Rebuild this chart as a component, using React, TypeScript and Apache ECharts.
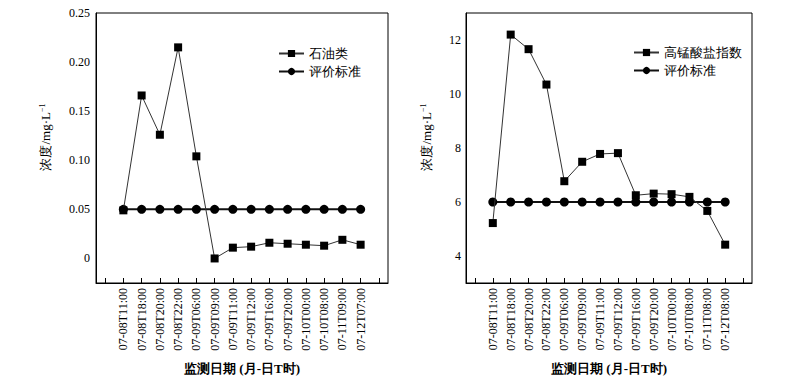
import React, { useEffect, useRef } from "react";
import * as echarts from "echarts";

const datesLeft = [
  "07-08T11:00", "07-08T18:00", "07-08T20:00", "07-08T22:00", "07-09T06:00",
  "07-09T09:00", "07-09T11:00", "07-09T12:00", "07-09T16:00", "07-09T20:00",
  "07-10T00:00", "07-10T08:00", "07-11T09:00", "07-12T07:00",
];
const datesRight = [
  "07-08T11:00", "07-08T18:00", "07-08T20:00", "07-08T22:00", "07-09T06:00",
  "07-09T09:00", "07-09T11:00", "07-09T12:00", "07-09T16:00", "07-09T20:00",
  "07-10T00:00", "07-10T08:00", "07-11T08:00", "07-12T08:00",
];
const petroleum = [0.049, 0.166, 0.126, 0.215, 0.104, 0.0, 0.011, 0.012, 0.016, 0.015, 0.014, 0.013, 0.019, 0.014];
const petroleumStd = [0.05, 0.05, 0.05, 0.05, 0.05, 0.05, 0.05, 0.05, 0.05, 0.05, 0.05, 0.05, 0.05, 0.05];
const permanganate = [5.22, 12.2, 11.66, 10.35, 6.77, 7.49, 7.78, 7.81, 6.25, 6.31, 6.29, 6.19, 5.67, 4.42];
const permanganateStd = [6, 6, 6, 6, 6, 6, 6, 6, 6, 6, 6, 6, 6, 6];

const SERIF = "Liberation Serif";

const pad = (arr: any[], v: any) => [v, ...arr, v];

export default function App() {
  const ref = useRef<HTMLDivElement>(null);
  useEffect(() => {
    if (!ref.current) return;
    const chart = echarts.init(ref.current, null, { renderer: "svg" });
    const xAxisCommon = (cats: string[], gridIndex: number) => ({
      type: "category",
      gridIndex,
      data: pad(cats, ""),
      boundaryGap: true,
      axisLine: { show: true, onZero: false, lineStyle: { color: "#000", width: 1 } },
      axisTick: { show: true, inside: true, alignWithLabel: true, interval: 0, length: 5, lineStyle: { color: "#000" } },
      axisLabel: { rotate: 90, interval: 0, margin: 5, color: "#000", fontSize: 12, fontFamily: SERIF },
      name: "监测日期 (月-日T时)",
      nameLocation: "middle",
      nameGap: 79,
      nameTextStyle: { color: "#000", fontSize: 13, fontWeight: "bold", fontFamily: SERIF },
      splitLine: { show: false },
    });
    const yName = "浓度/mg·L{sup|−1}";
    const yNameStyle = {
      color: "#000",
      fontSize: 13,
      fontFamily: SERIF,
      padding: [0, 0, 0, 22],
      rich: { sup: { fontSize: 8, verticalAlign: "top", color: "#000", fontFamily: SERIF, padding: [0, 0, 6, 0] } },
    };
    const option: any = {
      animation: false,
      backgroundColor: "#fff",
      textStyle: { fontFamily: SERIF },
      grid: [
        { left: 96, right: 412, top: 13, bottom: 97, show: true, borderColor: "#000", borderWidth: 1, backgroundColor: "transparent" },
        { left: 466, right: 48, top: 13, bottom: 97, show: true, borderColor: "#000", borderWidth: 1, backgroundColor: "transparent" },
      ],
      xAxis: [xAxisCommon(datesLeft, 0), xAxisCommon(datesRight, 1)],
      yAxis: [
        {
          type: "value",
          gridIndex: 0,
          min: -0.025,
          max: 0.25,
          interval: 0.025,
          axisLine: { show: true, lineStyle: { color: "#000" } },
          axisTick: { show: false },
          splitLine: { show: false },
          axisLabel: {
            margin: 6,
            color: "#000",
            fontSize: 12,
            fontFamily: SERIF,
            formatter: (v: number) => {
              const k = Math.round(v * 1000);
              if (k < 0 || k % 50 !== 0) return "";
              return k === 0 ? "0" : (k / 1000).toFixed(2);
            },
          },
          name: yName,
          nameLocation: "middle",
          nameGap: 44,
          nameTextStyle: yNameStyle,
        },
        {
          type: "value",
          gridIndex: 1,
          min: 3,
          max: 13,
          interval: 1,
          axisLine: { show: true, lineStyle: { color: "#000" } },
          axisTick: { show: false },
          splitLine: { show: false },
          axisLabel: {
            margin: 5,
            color: "#000",
            fontSize: 12,
            fontFamily: SERIF,
            formatter: (v: number) => {
              const k = Math.round(v);
              return k % 2 === 0 ? String(k) : "";
            },
          },
          name: yName,
          nameLocation: "middle",
          nameGap: 33,
          nameTextStyle: yNameStyle,
        },
      ],
      legend: [
        {
          data: ["石油类", "评价标准"],
          orient: "vertical",
          left: 273,
          top: 42,
          itemWidth: 25,
          itemHeight: 9,
          itemGap: 5,
          textStyle: { color: "#000", fontSize: 13, fontFamily: SERIF },
        },
        {
          data: ["高锰酸盐指数", "评价标准"],
          orient: "vertical",
          left: 628,
          top: 41,
          itemWidth: 25,
          itemHeight: 9,
          itemGap: 5,
          textStyle: { color: "#000", fontSize: 13, fontFamily: SERIF },
        },
      ],
      series: [
        {
          name: "评价标准",
          type: "line",
          xAxisIndex: 0,
          yAxisIndex: 0,
          data: pad(petroleumStd, null),
          symbol: "circle",
          symbolSize: 9,
          itemStyle: { color: "#000" },
          lineStyle: { color: "#111", width: 2 },
          z: 2,
        },
        {
          name: "石油类",
          type: "line",
          xAxisIndex: 0,
          yAxisIndex: 0,
          data: pad(petroleum, null),
          symbol: "rect",
          symbolSize: 8,
          itemStyle: { color: "#000" },
          lineStyle: { color: "#333", width: 1 },
          z: 3,
        },
        {
          name: "评价标准",
          type: "line",
          xAxisIndex: 1,
          yAxisIndex: 1,
          data: pad(permanganateStd, null),
          symbol: "circle",
          symbolSize: 9,
          itemStyle: { color: "#000" },
          lineStyle: { color: "#111", width: 2 },
          z: 2,
        },
        {
          name: "高锰酸盐指数",
          type: "line",
          xAxisIndex: 1,
          yAxisIndex: 1,
          data: pad(permanganate, null),
          symbol: "rect",
          symbolSize: 8,
          itemStyle: { color: "#000" },
          lineStyle: { color: "#333", width: 1 },
          z: 3,
        },
      ],
    };
    chart.setOption(option);
    return () => chart.dispose();
  }, []);
  return <div ref={ref} style={{ position: "fixed", left: 0, top: 0, width: 800, height: 380 }} />;
}
